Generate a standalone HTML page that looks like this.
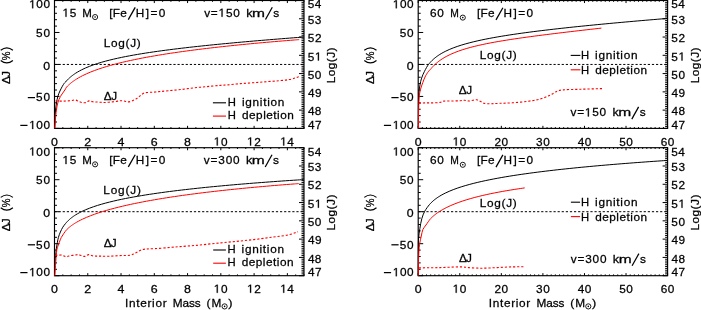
<!DOCTYPE html>
<html><head><meta charset="utf-8"><style>
html,body{margin:0;padding:0;background:#fff;width:701px;height:310px;overflow:hidden}
svg{display:block;will-change:transform}
text{font-family:"Liberation Sans",sans-serif;font-kerning:none}
</style></head><body>
<svg width="701" height="310" viewBox="0 0 701 310">
<rect width="701" height="310" fill="#fff"/>
<rect x="54.50" y="0.50" width="249.50" height="127.90" fill="none" stroke="#000" stroke-width="1.15"/>
<path d="M54.50,128.40v-2.56M54.50,0.50v2.56M62.82,128.40v-1.28M62.82,0.50v1.28M71.13,128.40v-1.28M71.13,0.50v1.28M79.45,128.40v-1.28M79.45,0.50v1.28M87.77,128.40v-2.56M87.77,0.50v2.56M96.08,128.40v-1.28M96.08,0.50v1.28M104.40,128.40v-1.28M104.40,0.50v1.28M112.72,128.40v-1.28M112.72,0.50v1.28M121.03,128.40v-2.56M121.03,0.50v2.56M129.35,128.40v-1.28M129.35,0.50v1.28M137.67,128.40v-1.28M137.67,0.50v1.28M145.98,128.40v-1.28M145.98,0.50v1.28M154.30,128.40v-2.56M154.30,0.50v2.56M162.62,128.40v-1.28M162.62,0.50v1.28M170.93,128.40v-1.28M170.93,0.50v1.28M179.25,128.40v-1.28M179.25,0.50v1.28M187.57,128.40v-2.56M187.57,0.50v2.56M195.88,128.40v-1.28M195.88,0.50v1.28M204.20,128.40v-1.28M204.20,0.50v1.28M212.52,128.40v-1.28M212.52,0.50v1.28M220.83,128.40v-2.56M220.83,0.50v2.56M229.15,128.40v-1.28M229.15,0.50v1.28M237.47,128.40v-1.28M237.47,0.50v1.28M245.78,128.40v-1.28M245.78,0.50v1.28M254.10,128.40v-2.56M254.10,0.50v2.56M262.42,128.40v-1.28M262.42,0.50v1.28M270.73,128.40v-1.28M270.73,0.50v1.28M279.05,128.40v-1.28M279.05,0.50v1.28M287.37,128.40v-2.56M287.37,0.50v2.56M295.68,128.40v-1.28M295.68,0.50v1.28M304.00,128.40v-1.28M304.00,0.50v1.28M54.50,128.40h4.99M54.50,122.01h2.50M54.50,115.61h2.50M54.50,109.22h2.50M54.50,102.82h2.50M54.50,96.43h4.99M54.50,90.03h2.50M54.50,83.64h2.50M54.50,77.24h2.50M54.50,70.84h2.50M54.50,64.45h4.99M54.50,58.05h2.50M54.50,51.66h2.50M54.50,45.27h2.50M54.50,38.87h2.50M54.50,32.47h4.99M54.50,26.08h2.50M54.50,19.69h2.50M54.50,13.29h2.50M54.50,6.90h2.50M54.50,0.50h4.99M304.00,128.40h-4.99M304.00,126.57h-2.50M304.00,124.75h-2.50M304.00,122.92h-2.50M304.00,121.09h-2.50M304.00,119.26h-2.50M304.00,117.44h-2.50M304.00,115.61h-2.50M304.00,113.78h-2.50M304.00,111.96h-2.50M304.00,110.13h-4.99M304.00,108.30h-2.50M304.00,106.47h-2.50M304.00,104.65h-2.50M304.00,102.82h-2.50M304.00,100.99h-2.50M304.00,99.17h-2.50M304.00,97.34h-2.50M304.00,95.51h-2.50M304.00,93.68h-2.50M304.00,91.86h-4.99M304.00,90.03h-2.50M304.00,88.20h-2.50M304.00,86.38h-2.50M304.00,84.55h-2.50M304.00,82.72h-2.50M304.00,80.89h-2.50M304.00,79.07h-2.50M304.00,77.24h-2.50M304.00,75.41h-2.50M304.00,73.59h-4.99M304.00,71.76h-2.50M304.00,69.93h-2.50M304.00,68.10h-2.50M304.00,66.28h-2.50M304.00,64.45h-2.50M304.00,62.62h-2.50M304.00,60.80h-2.50M304.00,58.97h-2.50M304.00,57.14h-2.50M304.00,55.31h-4.99M304.00,53.49h-2.50M304.00,51.66h-2.50M304.00,49.83h-2.50M304.00,48.01h-2.50M304.00,46.18h-2.50M304.00,44.35h-2.50M304.00,42.52h-2.50M304.00,40.70h-2.50M304.00,38.87h-2.50M304.00,37.04h-4.99M304.00,35.22h-2.50M304.00,33.39h-2.50M304.00,31.56h-2.50M304.00,29.73h-2.50M304.00,27.91h-2.50M304.00,26.08h-2.50M304.00,24.25h-2.50M304.00,22.43h-2.50M304.00,20.60h-2.50M304.00,18.77h-4.99M304.00,16.94h-2.50M304.00,15.12h-2.50M304.00,13.29h-2.50M304.00,11.46h-2.50M304.00,9.64h-2.50M304.00,7.81h-2.50M304.00,5.98h-2.50M304.00,4.15h-2.50M304.00,2.33h-2.50M304.00,0.50h-4.99" stroke="#000" stroke-width="1" fill="none"/>
<rect x="418.20" y="0.50" width="249.40" height="127.90" fill="none" stroke="#000" stroke-width="1.15"/>
<path d="M418.20,128.40v-2.56M418.20,0.50v2.56M422.36,128.40v-1.28M422.36,0.50v1.28M426.51,128.40v-1.28M426.51,0.50v1.28M430.67,128.40v-1.28M430.67,0.50v1.28M434.83,128.40v-1.28M434.83,0.50v1.28M438.98,128.40v-1.28M438.98,0.50v1.28M443.14,128.40v-1.28M443.14,0.50v1.28M447.30,128.40v-1.28M447.30,0.50v1.28M451.45,128.40v-1.28M451.45,0.50v1.28M455.61,128.40v-1.28M455.61,0.50v1.28M459.77,128.40v-2.56M459.77,0.50v2.56M463.92,128.40v-1.28M463.92,0.50v1.28M468.08,128.40v-1.28M468.08,0.50v1.28M472.24,128.40v-1.28M472.24,0.50v1.28M476.39,128.40v-1.28M476.39,0.50v1.28M480.55,128.40v-1.28M480.55,0.50v1.28M484.71,128.40v-1.28M484.71,0.50v1.28M488.86,128.40v-1.28M488.86,0.50v1.28M493.02,128.40v-1.28M493.02,0.50v1.28M497.18,128.40v-1.28M497.18,0.50v1.28M501.33,128.40v-2.56M501.33,0.50v2.56M505.49,128.40v-1.28M505.49,0.50v1.28M509.65,128.40v-1.28M509.65,0.50v1.28M513.80,128.40v-1.28M513.80,0.50v1.28M517.96,128.40v-1.28M517.96,0.50v1.28M522.12,128.40v-1.28M522.12,0.50v1.28M526.27,128.40v-1.28M526.27,0.50v1.28M530.43,128.40v-1.28M530.43,0.50v1.28M534.59,128.40v-1.28M534.59,0.50v1.28M538.74,128.40v-1.28M538.74,0.50v1.28M542.90,128.40v-2.56M542.90,0.50v2.56M547.06,128.40v-1.28M547.06,0.50v1.28M551.21,128.40v-1.28M551.21,0.50v1.28M555.37,128.40v-1.28M555.37,0.50v1.28M559.53,128.40v-1.28M559.53,0.50v1.28M563.68,128.40v-1.28M563.68,0.50v1.28M567.84,128.40v-1.28M567.84,0.50v1.28M572.00,128.40v-1.28M572.00,0.50v1.28M576.15,128.40v-1.28M576.15,0.50v1.28M580.31,128.40v-1.28M580.31,0.50v1.28M584.47,128.40v-2.56M584.47,0.50v2.56M588.62,128.40v-1.28M588.62,0.50v1.28M592.78,128.40v-1.28M592.78,0.50v1.28M596.94,128.40v-1.28M596.94,0.50v1.28M601.09,128.40v-1.28M601.09,0.50v1.28M605.25,128.40v-1.28M605.25,0.50v1.28M609.41,128.40v-1.28M609.41,0.50v1.28M613.56,128.40v-1.28M613.56,0.50v1.28M617.72,128.40v-1.28M617.72,0.50v1.28M621.88,128.40v-1.28M621.88,0.50v1.28M626.03,128.40v-2.56M626.03,0.50v2.56M630.19,128.40v-1.28M630.19,0.50v1.28M634.35,128.40v-1.28M634.35,0.50v1.28M638.50,128.40v-1.28M638.50,0.50v1.28M642.66,128.40v-1.28M642.66,0.50v1.28M646.82,128.40v-1.28M646.82,0.50v1.28M650.97,128.40v-1.28M650.97,0.50v1.28M655.13,128.40v-1.28M655.13,0.50v1.28M659.29,128.40v-1.28M659.29,0.50v1.28M663.44,128.40v-1.28M663.44,0.50v1.28M667.60,128.40v-2.56M667.60,0.50v2.56M418.20,128.40h4.99M418.20,122.01h2.49M418.20,115.61h2.49M418.20,109.22h2.49M418.20,102.82h2.49M418.20,96.43h4.99M418.20,90.03h2.49M418.20,83.64h2.49M418.20,77.24h2.49M418.20,70.84h2.49M418.20,64.45h4.99M418.20,58.05h2.49M418.20,51.66h2.49M418.20,45.27h2.49M418.20,38.87h2.49M418.20,32.47h4.99M418.20,26.08h2.49M418.20,19.69h2.49M418.20,13.29h2.49M418.20,6.90h2.49M418.20,0.50h4.99M667.60,128.40h-4.99M667.60,126.57h-2.49M667.60,124.75h-2.49M667.60,122.92h-2.49M667.60,121.09h-2.49M667.60,119.26h-2.49M667.60,117.44h-2.49M667.60,115.61h-2.49M667.60,113.78h-2.49M667.60,111.96h-2.49M667.60,110.13h-4.99M667.60,108.30h-2.49M667.60,106.47h-2.49M667.60,104.65h-2.49M667.60,102.82h-2.49M667.60,100.99h-2.49M667.60,99.17h-2.49M667.60,97.34h-2.49M667.60,95.51h-2.49M667.60,93.68h-2.49M667.60,91.86h-4.99M667.60,90.03h-2.49M667.60,88.20h-2.49M667.60,86.38h-2.49M667.60,84.55h-2.49M667.60,82.72h-2.49M667.60,80.89h-2.49M667.60,79.07h-2.49M667.60,77.24h-2.49M667.60,75.41h-2.49M667.60,73.59h-4.99M667.60,71.76h-2.49M667.60,69.93h-2.49M667.60,68.10h-2.49M667.60,66.28h-2.49M667.60,64.45h-2.49M667.60,62.62h-2.49M667.60,60.80h-2.49M667.60,58.97h-2.49M667.60,57.14h-2.49M667.60,55.31h-4.99M667.60,53.49h-2.49M667.60,51.66h-2.49M667.60,49.83h-2.49M667.60,48.01h-2.49M667.60,46.18h-2.49M667.60,44.35h-2.49M667.60,42.52h-2.49M667.60,40.70h-2.49M667.60,38.87h-2.49M667.60,37.04h-4.99M667.60,35.22h-2.49M667.60,33.39h-2.49M667.60,31.56h-2.49M667.60,29.73h-2.49M667.60,27.91h-2.49M667.60,26.08h-2.49M667.60,24.25h-2.49M667.60,22.43h-2.49M667.60,20.60h-2.49M667.60,18.77h-4.99M667.60,16.94h-2.49M667.60,15.12h-2.49M667.60,13.29h-2.49M667.60,11.46h-2.49M667.60,9.64h-2.49M667.60,7.81h-2.49M667.60,5.98h-2.49M667.60,4.15h-2.49M667.60,2.33h-2.49M667.60,0.50h-4.99" stroke="#000" stroke-width="1" fill="none"/>
<rect x="54.50" y="147.70" width="249.50" height="128.00" fill="none" stroke="#000" stroke-width="1.15"/>
<path d="M54.50,275.70v-2.56M54.50,147.70v2.56M62.82,275.70v-1.28M62.82,147.70v1.28M71.13,275.70v-1.28M71.13,147.70v1.28M79.45,275.70v-1.28M79.45,147.70v1.28M87.77,275.70v-2.56M87.77,147.70v2.56M96.08,275.70v-1.28M96.08,147.70v1.28M104.40,275.70v-1.28M104.40,147.70v1.28M112.72,275.70v-1.28M112.72,147.70v1.28M121.03,275.70v-2.56M121.03,147.70v2.56M129.35,275.70v-1.28M129.35,147.70v1.28M137.67,275.70v-1.28M137.67,147.70v1.28M145.98,275.70v-1.28M145.98,147.70v1.28M154.30,275.70v-2.56M154.30,147.70v2.56M162.62,275.70v-1.28M162.62,147.70v1.28M170.93,275.70v-1.28M170.93,147.70v1.28M179.25,275.70v-1.28M179.25,147.70v1.28M187.57,275.70v-2.56M187.57,147.70v2.56M195.88,275.70v-1.28M195.88,147.70v1.28M204.20,275.70v-1.28M204.20,147.70v1.28M212.52,275.70v-1.28M212.52,147.70v1.28M220.83,275.70v-2.56M220.83,147.70v2.56M229.15,275.70v-1.28M229.15,147.70v1.28M237.47,275.70v-1.28M237.47,147.70v1.28M245.78,275.70v-1.28M245.78,147.70v1.28M254.10,275.70v-2.56M254.10,147.70v2.56M262.42,275.70v-1.28M262.42,147.70v1.28M270.73,275.70v-1.28M270.73,147.70v1.28M279.05,275.70v-1.28M279.05,147.70v1.28M287.37,275.70v-2.56M287.37,147.70v2.56M295.68,275.70v-1.28M295.68,147.70v1.28M304.00,275.70v-1.28M304.00,147.70v1.28M54.50,275.70h4.99M54.50,269.30h2.50M54.50,262.90h2.50M54.50,256.50h2.50M54.50,250.10h2.50M54.50,243.70h4.99M54.50,237.30h2.50M54.50,230.90h2.50M54.50,224.50h2.50M54.50,218.10h2.50M54.50,211.70h4.99M54.50,205.30h2.50M54.50,198.90h2.50M54.50,192.50h2.50M54.50,186.10h2.50M54.50,179.70h4.99M54.50,173.30h2.50M54.50,166.90h2.50M54.50,160.50h2.50M54.50,154.10h2.50M54.50,147.70h4.99M304.00,275.70h-4.99M304.00,273.87h-2.50M304.00,272.04h-2.50M304.00,270.21h-2.50M304.00,268.39h-2.50M304.00,266.56h-2.50M304.00,264.73h-2.50M304.00,262.90h-2.50M304.00,261.07h-2.50M304.00,259.24h-2.50M304.00,257.41h-4.99M304.00,255.59h-2.50M304.00,253.76h-2.50M304.00,251.93h-2.50M304.00,250.10h-2.50M304.00,248.27h-2.50M304.00,246.44h-2.50M304.00,244.61h-2.50M304.00,242.79h-2.50M304.00,240.96h-2.50M304.00,239.13h-4.99M304.00,237.30h-2.50M304.00,235.47h-2.50M304.00,233.64h-2.50M304.00,231.81h-2.50M304.00,229.99h-2.50M304.00,228.16h-2.50M304.00,226.33h-2.50M304.00,224.50h-2.50M304.00,222.67h-2.50M304.00,220.84h-4.99M304.00,219.01h-2.50M304.00,217.19h-2.50M304.00,215.36h-2.50M304.00,213.53h-2.50M304.00,211.70h-2.50M304.00,209.87h-2.50M304.00,208.04h-2.50M304.00,206.21h-2.50M304.00,204.39h-2.50M304.00,202.56h-4.99M304.00,200.73h-2.50M304.00,198.90h-2.50M304.00,197.07h-2.50M304.00,195.24h-2.50M304.00,193.41h-2.50M304.00,191.59h-2.50M304.00,189.76h-2.50M304.00,187.93h-2.50M304.00,186.10h-2.50M304.00,184.27h-4.99M304.00,182.44h-2.50M304.00,180.61h-2.50M304.00,178.79h-2.50M304.00,176.96h-2.50M304.00,175.13h-2.50M304.00,173.30h-2.50M304.00,171.47h-2.50M304.00,169.64h-2.50M304.00,167.81h-2.50M304.00,165.99h-4.99M304.00,164.16h-2.50M304.00,162.33h-2.50M304.00,160.50h-2.50M304.00,158.67h-2.50M304.00,156.84h-2.50M304.00,155.01h-2.50M304.00,153.19h-2.50M304.00,151.36h-2.50M304.00,149.53h-2.50M304.00,147.70h-4.99" stroke="#000" stroke-width="1" fill="none"/>
<rect x="418.20" y="147.70" width="249.40" height="128.00" fill="none" stroke="#000" stroke-width="1.15"/>
<path d="M418.20,275.70v-2.56M418.20,147.70v2.56M422.36,275.70v-1.28M422.36,147.70v1.28M426.51,275.70v-1.28M426.51,147.70v1.28M430.67,275.70v-1.28M430.67,147.70v1.28M434.83,275.70v-1.28M434.83,147.70v1.28M438.98,275.70v-1.28M438.98,147.70v1.28M443.14,275.70v-1.28M443.14,147.70v1.28M447.30,275.70v-1.28M447.30,147.70v1.28M451.45,275.70v-1.28M451.45,147.70v1.28M455.61,275.70v-1.28M455.61,147.70v1.28M459.77,275.70v-2.56M459.77,147.70v2.56M463.92,275.70v-1.28M463.92,147.70v1.28M468.08,275.70v-1.28M468.08,147.70v1.28M472.24,275.70v-1.28M472.24,147.70v1.28M476.39,275.70v-1.28M476.39,147.70v1.28M480.55,275.70v-1.28M480.55,147.70v1.28M484.71,275.70v-1.28M484.71,147.70v1.28M488.86,275.70v-1.28M488.86,147.70v1.28M493.02,275.70v-1.28M493.02,147.70v1.28M497.18,275.70v-1.28M497.18,147.70v1.28M501.33,275.70v-2.56M501.33,147.70v2.56M505.49,275.70v-1.28M505.49,147.70v1.28M509.65,275.70v-1.28M509.65,147.70v1.28M513.80,275.70v-1.28M513.80,147.70v1.28M517.96,275.70v-1.28M517.96,147.70v1.28M522.12,275.70v-1.28M522.12,147.70v1.28M526.27,275.70v-1.28M526.27,147.70v1.28M530.43,275.70v-1.28M530.43,147.70v1.28M534.59,275.70v-1.28M534.59,147.70v1.28M538.74,275.70v-1.28M538.74,147.70v1.28M542.90,275.70v-2.56M542.90,147.70v2.56M547.06,275.70v-1.28M547.06,147.70v1.28M551.21,275.70v-1.28M551.21,147.70v1.28M555.37,275.70v-1.28M555.37,147.70v1.28M559.53,275.70v-1.28M559.53,147.70v1.28M563.68,275.70v-1.28M563.68,147.70v1.28M567.84,275.70v-1.28M567.84,147.70v1.28M572.00,275.70v-1.28M572.00,147.70v1.28M576.15,275.70v-1.28M576.15,147.70v1.28M580.31,275.70v-1.28M580.31,147.70v1.28M584.47,275.70v-2.56M584.47,147.70v2.56M588.62,275.70v-1.28M588.62,147.70v1.28M592.78,275.70v-1.28M592.78,147.70v1.28M596.94,275.70v-1.28M596.94,147.70v1.28M601.09,275.70v-1.28M601.09,147.70v1.28M605.25,275.70v-1.28M605.25,147.70v1.28M609.41,275.70v-1.28M609.41,147.70v1.28M613.56,275.70v-1.28M613.56,147.70v1.28M617.72,275.70v-1.28M617.72,147.70v1.28M621.88,275.70v-1.28M621.88,147.70v1.28M626.03,275.70v-2.56M626.03,147.70v2.56M630.19,275.70v-1.28M630.19,147.70v1.28M634.35,275.70v-1.28M634.35,147.70v1.28M638.50,275.70v-1.28M638.50,147.70v1.28M642.66,275.70v-1.28M642.66,147.70v1.28M646.82,275.70v-1.28M646.82,147.70v1.28M650.97,275.70v-1.28M650.97,147.70v1.28M655.13,275.70v-1.28M655.13,147.70v1.28M659.29,275.70v-1.28M659.29,147.70v1.28M663.44,275.70v-1.28M663.44,147.70v1.28M667.60,275.70v-2.56M667.60,147.70v2.56M418.20,275.70h4.99M418.20,269.30h2.49M418.20,262.90h2.49M418.20,256.50h2.49M418.20,250.10h2.49M418.20,243.70h4.99M418.20,237.30h2.49M418.20,230.90h2.49M418.20,224.50h2.49M418.20,218.10h2.49M418.20,211.70h4.99M418.20,205.30h2.49M418.20,198.90h2.49M418.20,192.50h2.49M418.20,186.10h2.49M418.20,179.70h4.99M418.20,173.30h2.49M418.20,166.90h2.49M418.20,160.50h2.49M418.20,154.10h2.49M418.20,147.70h4.99M667.60,275.70h-4.99M667.60,273.87h-2.49M667.60,272.04h-2.49M667.60,270.21h-2.49M667.60,268.39h-2.49M667.60,266.56h-2.49M667.60,264.73h-2.49M667.60,262.90h-2.49M667.60,261.07h-2.49M667.60,259.24h-2.49M667.60,257.41h-4.99M667.60,255.59h-2.49M667.60,253.76h-2.49M667.60,251.93h-2.49M667.60,250.10h-2.49M667.60,248.27h-2.49M667.60,246.44h-2.49M667.60,244.61h-2.49M667.60,242.79h-2.49M667.60,240.96h-2.49M667.60,239.13h-4.99M667.60,237.30h-2.49M667.60,235.47h-2.49M667.60,233.64h-2.49M667.60,231.81h-2.49M667.60,229.99h-2.49M667.60,228.16h-2.49M667.60,226.33h-2.49M667.60,224.50h-2.49M667.60,222.67h-2.49M667.60,220.84h-4.99M667.60,219.01h-2.49M667.60,217.19h-2.49M667.60,215.36h-2.49M667.60,213.53h-2.49M667.60,211.70h-2.49M667.60,209.87h-2.49M667.60,208.04h-2.49M667.60,206.21h-2.49M667.60,204.39h-2.49M667.60,202.56h-4.99M667.60,200.73h-2.49M667.60,198.90h-2.49M667.60,197.07h-2.49M667.60,195.24h-2.49M667.60,193.41h-2.49M667.60,191.59h-2.49M667.60,189.76h-2.49M667.60,187.93h-2.49M667.60,186.10h-2.49M667.60,184.27h-4.99M667.60,182.44h-2.49M667.60,180.61h-2.49M667.60,178.79h-2.49M667.60,176.96h-2.49M667.60,175.13h-2.49M667.60,173.30h-2.49M667.60,171.47h-2.49M667.60,169.64h-2.49M667.60,167.81h-2.49M667.60,165.99h-4.99M667.60,164.16h-2.49M667.60,162.33h-2.49M667.60,160.50h-2.49M667.60,158.67h-2.49M667.60,156.84h-2.49M667.60,155.01h-2.49M667.60,153.19h-2.49M667.60,151.36h-2.49M667.60,149.53h-2.49M667.60,147.70h-4.99" stroke="#000" stroke-width="1" fill="none"/>
<path d="M54.50,64.45H304.00" stroke="#000" stroke-width="1.0" stroke-dasharray="2.2 1.9" stroke-dashoffset="0"/>
<path d="M418.20,64.45H667.60" stroke="#000" stroke-width="1.0" stroke-dasharray="2.2 1.9" stroke-dashoffset="0"/>
<path d="M54.50,211.70H304.00" stroke="#000" stroke-width="1.0" stroke-dasharray="2.2 1.9" stroke-dashoffset="0"/>
<path d="M418.20,211.70H667.60" stroke="#000" stroke-width="1.0" stroke-dasharray="2.2 1.9" stroke-dashoffset="0"/>
<path d="M54.70,128.40 C54.80,125.60 54.86,122.96 55.00,120.00 C55.15,116.67 55.30,112.50 55.60,109.40 C55.84,106.96 56.13,105.05 56.50,102.90 C56.87,100.75 57.17,98.61 57.80,96.50 C58.45,94.31 59.36,92.15 60.40,90.00 C61.50,87.72 63.30,84.50 64.30,83.20 C64.76,82.60 65.13,82.42 65.50,82.02 C65.86,81.64 66.16,81.24 66.50,80.87 C66.83,80.50 67.16,80.15 67.50,79.80 C67.83,79.46 68.16,79.13 68.50,78.81 C68.83,78.49 69.16,78.18 69.50,77.88 C69.83,77.58 70.16,77.29 70.50,77.01 C70.83,76.73 71.16,76.45 71.50,76.19 C71.83,75.92 72.17,75.66 72.50,75.41 C72.83,75.16 73.17,74.92 73.50,74.68 C73.83,74.44 74.17,74.21 74.50,73.98 C74.83,73.75 75.11,73.57 75.50,73.31 C76.05,72.96 76.71,72.53 77.50,72.07 C78.60,71.43 80.16,70.56 81.50,69.88 C82.82,69.20 84.16,68.58 85.50,67.99 C86.83,67.40 88.16,66.85 89.50,66.33 C90.83,65.80 92.16,65.32 93.50,64.84 C94.83,64.38 96.16,63.93 97.50,63.51 C98.83,63.08 100.16,62.68 101.50,62.29 C102.83,61.90 104.16,61.53 105.50,61.16 C106.83,60.81 108.17,60.46 109.50,60.13 C110.83,59.79 112.17,59.47 113.50,59.16 C114.83,58.85 116.17,58.55 117.50,58.25 C118.83,57.96 120.17,57.68 121.50,57.40 C122.83,57.12 124.17,56.86 125.50,56.59 C126.83,56.33 128.17,56.08 129.50,55.83 C130.83,55.58 132.17,55.34 133.50,55.10 C134.83,54.86 136.17,54.63 137.50,54.41 C138.83,54.18 140.17,53.96 141.50,53.74 C142.83,53.52 144.17,53.31 145.50,53.10 C146.83,52.89 148.17,52.69 149.50,52.49 C150.83,52.29 152.17,52.09 153.50,51.90 C154.83,51.70 156.17,51.51 157.50,51.33 C158.83,51.14 160.17,50.95 161.50,50.77 C162.83,50.59 164.17,50.41 165.50,50.24 C166.83,50.06 168.17,49.89 169.50,49.72 C170.83,49.55 172.17,49.38 173.50,49.21 C174.83,49.04 176.17,48.88 177.50,48.72 C178.83,48.56 180.17,48.40 181.50,48.24 C182.83,48.08 184.17,47.92 185.50,47.77 C186.83,47.62 188.17,47.46 189.50,47.31 C190.83,47.16 192.17,47.01 193.50,46.87 C194.83,46.72 196.17,46.57 197.50,46.43 C198.83,46.29 200.17,46.14 201.50,46.00 C202.83,45.86 204.17,45.72 205.50,45.58 C206.83,45.44 208.17,45.31 209.50,45.17 C210.83,45.03 212.17,44.90 213.50,44.77 C214.83,44.63 216.17,44.50 217.50,44.37 C218.83,44.24 220.17,44.11 221.50,43.98 C222.83,43.85 224.17,43.72 225.50,43.60 C226.83,43.47 228.17,43.34 229.50,43.22 C230.83,43.09 232.17,42.97 233.50,42.85 C234.83,42.72 236.17,42.60 237.50,42.48 C238.83,42.36 240.17,42.24 241.50,42.12 C242.83,42.00 244.17,41.88 245.50,41.76 C246.83,41.64 248.17,41.53 249.50,41.41 C250.83,41.30 252.17,41.18 253.50,41.06 C254.83,40.95 256.17,40.84 257.50,40.72 C258.83,40.61 260.17,40.50 261.50,40.38 C262.83,40.27 264.17,40.16 265.50,40.05 C266.83,39.94 268.17,39.83 269.50,39.72 C270.83,39.61 272.17,39.50 273.50,39.39 C274.83,39.28 276.17,39.18 277.50,39.07 C278.83,38.96 280.17,38.86 281.50,38.75 C282.83,38.64 284.17,38.54 285.50,38.43 C286.83,38.33 288.17,38.22 289.50,38.12 C290.83,38.01 292.17,37.91 293.50,37.81 C294.83,37.71 296.17,37.60 297.50,37.50 C298.83,37.40 300.38,37.28 301.50,37.20 C302.31,37.13 302.90,37.09 303.60,37.04" stroke="#000" stroke-width="1.0" fill="none" stroke-linejoin="round"/>
<path d="M54.80,128.40 C54.93,126.27 54.99,124.49 55.20,122.00 C55.49,118.50 55.97,112.90 56.50,109.40 C56.88,106.87 57.16,105.03 57.80,102.90 C58.45,100.73 59.27,98.58 60.40,96.50 C61.60,94.27 63.81,91.75 64.90,90.00 C65.60,88.87 65.98,87.82 66.50,87.12 C66.84,86.66 67.16,86.42 67.50,86.08 C67.83,85.75 68.16,85.43 68.50,85.11 C68.83,84.80 69.16,84.50 69.50,84.21 C69.83,83.91 70.16,83.63 70.50,83.35 C70.83,83.08 71.16,82.81 71.50,82.55 C71.83,82.29 72.17,82.03 72.50,81.78 C72.83,81.54 73.17,81.29 73.50,81.06 C73.83,80.82 74.17,80.59 74.50,80.36 C74.83,80.14 75.17,79.92 75.50,79.70 C75.83,79.48 76.11,79.30 76.50,79.06 C77.05,78.72 77.71,78.31 78.50,77.86 C79.60,77.24 81.16,76.39 82.50,75.70 C83.82,75.03 85.16,74.40 86.50,73.80 C87.83,73.20 89.16,72.63 90.50,72.09 C91.83,71.54 93.16,71.03 94.50,70.53 C95.83,70.03 97.16,69.56 98.50,69.10 C99.83,68.64 101.16,68.20 102.50,67.78 C103.83,67.35 105.16,66.94 106.50,66.54 C107.83,66.14 109.17,65.76 110.50,65.39 C111.83,65.01 113.17,64.65 114.50,64.30 C115.83,63.94 117.17,63.60 118.50,63.27 C119.83,62.93 121.17,62.61 122.50,62.29 C123.83,61.97 125.17,61.66 126.50,61.36 C127.83,61.06 129.17,60.76 130.50,60.47 C131.83,60.18 133.17,59.90 134.50,59.63 C135.83,59.35 137.17,59.08 138.50,58.81 C139.83,58.55 141.17,58.29 142.50,58.03 C143.83,57.78 145.17,57.53 146.50,57.28 C147.83,57.03 149.17,56.79 150.50,56.56 C151.83,56.32 153.17,56.09 154.50,55.86 C155.83,55.63 157.17,55.40 158.50,55.18 C159.83,54.96 161.17,54.74 162.50,54.53 C163.83,54.31 165.17,54.10 166.50,53.89 C167.83,53.69 169.17,53.48 170.50,53.28 C171.83,53.08 173.17,52.88 174.50,52.69 C175.83,52.49 177.17,52.30 178.50,52.11 C179.83,51.92 181.17,51.73 182.50,51.54 C183.83,51.36 185.17,51.18 186.50,51.00 C187.83,50.82 189.17,50.64 190.50,50.46 C191.83,50.29 193.17,50.11 194.50,49.94 C195.83,49.77 197.17,49.60 198.50,49.44 C199.83,49.27 201.17,49.10 202.50,48.94 C203.83,48.78 205.17,48.62 206.50,48.46 C207.83,48.30 209.17,48.14 210.50,47.99 C211.83,47.83 213.17,47.68 214.50,47.52 C215.83,47.37 217.17,47.22 218.50,47.07 C219.83,46.92 221.17,46.78 222.50,46.63 C223.83,46.49 225.17,46.34 226.50,46.20 C227.83,46.06 229.17,45.92 230.50,45.78 C231.83,45.64 233.17,45.50 234.50,45.36 C235.83,45.22 237.17,45.09 238.50,44.95 C239.83,44.82 241.17,44.69 242.50,44.56 C243.83,44.42 245.17,44.29 246.50,44.16 C247.83,44.04 249.17,43.91 250.50,43.78 C251.83,43.65 253.17,43.53 254.50,43.40 C255.83,43.28 257.17,43.16 258.50,43.03 C259.83,42.91 261.17,42.79 262.50,42.67 C263.83,42.55 265.17,42.43 266.50,42.31 C267.83,42.20 269.17,42.08 270.50,41.96 C271.83,41.85 273.17,41.73 274.50,41.62 C275.83,41.51 277.17,41.39 278.50,41.28 C279.83,41.17 281.17,41.06 282.50,40.95 C283.83,40.84 285.17,40.73 286.50,40.62 C287.83,40.51 289.17,40.40 290.50,40.30 C291.83,40.19 293.17,40.08 294.50,39.98 C295.83,39.87 297.71,39.73 298.50,39.67 C298.83,39.64 298.97,39.63 299.20,39.61" stroke="#ff0000" stroke-width="1.0" fill="none" stroke-linejoin="round"/>
<path d="M55.50,101.00 C56.90,101.03 58.35,101.08 59.70,101.10 C60.95,101.11 62.05,101.13 63.30,101.10 C64.67,101.07 66.20,100.99 67.60,100.90 C68.93,100.82 70.20,100.75 71.50,100.60 C72.80,100.45 74.15,99.83 75.40,100.00 C76.65,100.17 77.80,101.14 79.00,101.60 C80.16,102.04 81.35,102.54 82.50,102.70 C83.58,102.85 84.66,102.87 85.70,102.60 C86.83,102.31 87.83,101.05 89.00,100.90 C90.22,100.75 91.59,101.62 92.90,101.80 C94.19,101.98 95.50,101.92 96.80,102.00 C98.10,102.08 99.43,102.22 100.70,102.30 C101.90,102.38 102.94,102.50 104.20,102.50 C105.67,102.50 107.27,102.34 109.00,102.20 C111.05,102.03 113.69,101.78 115.70,101.50 C117.35,101.27 118.73,100.78 120.20,100.70 C121.59,100.63 123.02,100.78 124.30,101.00 C125.47,101.20 126.46,101.84 127.60,101.90 C128.79,101.96 130.09,101.68 131.30,101.30 C132.56,100.90 133.85,100.16 135.00,99.50 C136.07,98.88 137.02,98.23 138.00,97.50 C139.02,96.74 139.95,95.75 141.00,95.00 C142.05,94.25 143.09,93.43 144.30,93.00 C145.55,92.55 147.01,92.53 148.40,92.40 C149.84,92.26 151.36,92.30 152.80,92.20 C154.19,92.10 155.53,91.92 156.90,91.80 C158.27,91.68 159.43,91.64 161.00,91.50 C163.13,91.31 165.67,90.98 168.50,90.70 C172.20,90.33 177.03,89.98 181.30,89.50 C185.60,89.02 189.90,88.28 194.20,87.80 C198.47,87.32 202.72,87.00 207.00,86.60 C211.29,86.20 216.12,85.70 219.90,85.40 C222.85,85.17 224.85,85.14 227.80,84.90 C231.58,84.59 236.41,83.97 240.70,83.60 C244.97,83.23 249.23,83.02 253.50,82.70 C257.77,82.38 262.02,82.03 266.30,81.70 C270.59,81.37 275.15,81.09 279.20,80.70 C282.83,80.35 286.49,80.07 289.50,79.50 C291.90,79.04 294.06,78.41 295.90,77.80 C297.35,77.32 298.43,76.80 299.70,76.30" stroke="#ff0000" stroke-width="1.1" fill="none" stroke-linejoin="round" stroke-dasharray="2.2 1.9"/>
<path d="M418.30,128.40 C418.33,122.27 418.31,115.93 418.40,110.00 C418.48,104.45 418.44,98.50 418.80,93.90 C419.07,90.43 419.48,87.59 420.00,84.80 C420.45,82.38 420.87,80.31 421.60,78.10 C422.36,75.81 423.39,73.53 424.50,71.30 C425.65,69.00 427.54,65.68 428.40,64.50 C428.73,64.04 428.92,63.94 429.20,63.62 C429.52,63.26 429.86,62.83 430.20,62.45 C430.53,62.08 430.86,61.72 431.20,61.36 C431.53,61.02 431.86,60.69 432.20,60.36 C432.53,60.04 432.86,59.73 433.20,59.42 C433.53,59.12 433.86,58.83 434.20,58.54 C434.53,58.26 434.86,57.98 435.20,57.72 C435.53,57.45 435.86,57.19 436.20,56.94 C436.53,56.68 436.87,56.44 437.20,56.20 C437.53,55.96 437.87,55.73 438.20,55.50 C438.53,55.27 438.81,55.09 439.20,54.84 C439.75,54.48 440.41,54.06 441.20,53.60 C442.30,52.96 443.86,52.10 445.20,51.43 C446.52,50.76 447.86,50.15 449.20,49.56 C450.53,48.98 451.86,48.45 453.20,47.93 C454.53,47.42 455.86,46.94 457.20,46.48 C458.53,46.02 459.86,45.59 461.20,45.17 C462.53,44.76 463.86,44.37 465.20,43.99 C466.53,43.61 467.86,43.25 469.20,42.90 C470.53,42.55 471.87,42.21 473.20,41.89 C474.53,41.56 475.87,41.25 477.20,40.95 C478.53,40.64 479.87,40.35 481.20,40.06 C482.53,39.78 483.87,39.50 485.20,39.23 C486.53,38.97 487.87,38.70 489.20,38.45 C490.53,38.19 491.87,37.95 493.20,37.70 C494.53,37.46 495.87,37.22 497.20,36.99 C498.53,36.76 499.87,36.53 501.20,36.31 C502.53,36.09 503.87,35.87 505.20,35.66 C506.53,35.45 507.87,35.24 509.20,35.03 C510.53,34.83 511.87,34.62 513.20,34.43 C514.53,34.23 515.87,34.03 517.20,33.84 C518.53,33.65 519.87,33.46 521.20,33.28 C522.53,33.09 523.87,32.91 525.20,32.73 C526.53,32.55 527.87,32.37 529.20,32.19 C530.53,32.02 531.87,31.84 533.20,31.67 C534.53,31.50 535.87,31.33 537.20,31.17 C538.53,31.00 539.87,30.83 541.20,30.67 C542.53,30.51 543.87,30.35 545.20,30.19 C546.53,30.03 547.87,29.87 549.20,29.72 C550.53,29.56 551.87,29.41 553.20,29.25 C554.53,29.10 555.87,28.95 557.20,28.80 C558.53,28.65 559.87,28.50 561.20,28.35 C562.53,28.21 563.87,28.06 565.20,27.91 C566.53,27.77 567.87,27.63 569.20,27.48 C570.53,27.34 571.87,27.20 573.20,27.06 C574.53,26.92 575.87,26.78 577.20,26.64 C578.53,26.51 579.87,26.37 581.20,26.23 C582.53,26.10 583.87,25.96 585.20,25.83 C586.53,25.70 587.87,25.56 589.20,25.43 C590.53,25.30 591.87,25.17 593.20,25.04 C594.53,24.91 595.87,24.78 597.20,24.65 C598.53,24.52 599.87,24.39 601.20,24.26 C602.53,24.14 603.87,24.01 605.20,23.88 C606.53,23.76 607.87,23.63 609.20,23.51 C610.53,23.38 611.87,23.26 613.20,23.14 C614.53,23.01 615.87,22.89 617.20,22.77 C618.53,22.65 619.87,22.53 621.20,22.41 C622.53,22.28 623.87,22.16 625.20,22.04 C626.53,21.93 627.87,21.81 629.20,21.69 C630.53,21.57 631.87,21.45 633.20,21.33 C634.53,21.22 635.87,21.10 637.20,20.98 C638.53,20.87 639.87,20.75 641.20,20.64 C642.53,20.52 643.87,20.41 645.20,20.29 C646.53,20.18 647.87,20.06 649.20,19.95 C650.53,19.84 651.87,19.72 653.20,19.61 C654.53,19.50 655.87,19.38 657.20,19.27 C658.53,19.16 659.87,19.05 661.20,18.94 C662.53,18.83 664.05,18.70 665.20,18.61 C666.07,18.53 666.73,18.48 667.50,18.42" stroke="#000" stroke-width="1.0" fill="none" stroke-linejoin="round"/>
<path d="M418.50,128.40 C418.53,122.27 418.49,114.70 418.60,110.00 C418.67,107.08 418.77,105.33 418.90,102.90 C419.04,100.34 419.09,97.41 419.40,95.00 C419.66,92.94 419.98,91.26 420.50,89.30 C421.08,87.14 421.96,84.83 422.80,82.60 C423.66,80.33 424.45,77.90 425.60,75.80 C426.70,73.78 428.67,71.04 429.50,70.20 C429.79,69.90 429.96,69.92 430.20,69.70 C430.52,69.39 430.86,68.87 431.20,68.47 C431.53,68.07 431.86,67.69 432.20,67.31 C432.53,66.95 432.86,66.59 433.20,66.24 C433.53,65.89 433.86,65.56 434.20,65.23 C434.53,64.90 434.86,64.58 435.20,64.27 C435.53,63.97 435.86,63.67 436.20,63.38 C436.53,63.09 436.86,62.80 437.20,62.53 C437.53,62.25 437.87,61.99 438.20,61.72 C438.53,61.46 438.87,61.21 439.20,60.96 C439.53,60.71 439.81,60.51 440.20,60.23 C440.75,59.85 441.41,59.38 442.20,58.88 C443.30,58.19 444.85,57.25 446.20,56.51 C447.52,55.79 448.86,55.13 450.20,54.50 C451.52,53.87 452.86,53.30 454.20,52.75 C455.53,52.20 456.86,51.69 458.20,51.21 C459.53,50.72 460.86,50.27 462.20,49.84 C463.53,49.40 464.86,48.99 466.20,48.60 C467.53,48.21 468.86,47.83 470.20,47.47 C471.53,47.12 472.87,46.77 474.20,46.44 C475.53,46.11 476.87,45.79 478.20,45.49 C479.53,45.18 480.87,44.88 482.20,44.60 C483.53,44.31 484.87,44.03 486.20,43.76 C487.53,43.49 488.87,43.23 490.20,42.98 C491.53,42.72 492.87,42.47 494.20,42.23 C495.53,41.99 496.87,41.75 498.20,41.52 C499.53,41.29 500.87,41.06 502.20,40.84 C503.53,40.62 504.87,40.40 506.20,40.19 C507.53,39.97 508.87,39.77 510.20,39.56 C511.53,39.35 512.87,39.15 514.20,38.95 C515.53,38.75 516.87,38.56 518.20,38.36 C519.53,38.17 520.87,37.98 522.20,37.79 C523.53,37.60 524.87,37.42 526.20,37.23 C527.53,37.05 528.87,36.87 530.20,36.69 C531.53,36.51 532.87,36.33 534.20,36.15 C535.53,35.98 536.87,35.80 538.20,35.63 C539.53,35.45 540.87,35.28 542.20,35.11 C543.53,34.94 544.87,34.77 546.20,34.61 C547.53,34.44 548.87,34.27 550.20,34.11 C551.53,33.94 552.87,33.78 554.20,33.61 C555.53,33.45 556.87,33.29 558.20,33.13 C559.53,32.97 560.87,32.81 562.20,32.65 C563.53,32.49 564.87,32.33 566.20,32.17 C567.53,32.01 568.87,31.85 570.20,31.70 C571.53,31.54 572.87,31.38 574.20,31.23 C575.53,31.07 576.87,30.92 578.20,30.76 C579.53,30.61 580.87,30.45 582.20,30.30 C583.53,30.15 584.87,29.99 586.20,29.84 C587.53,29.69 588.87,29.53 590.20,29.38 C591.53,29.23 592.87,29.08 594.20,28.93 C595.53,28.78 596.94,28.62 598.20,28.47 C599.33,28.35 600.33,28.23 601.40,28.11" stroke="#ff0000" stroke-width="1.0" fill="none" stroke-linejoin="round"/>
<path d="M418.80,103.20 C420.87,103.10 422.97,102.95 425.00,102.90 C426.96,102.85 428.65,102.96 430.80,102.90 C433.52,102.83 437.61,102.86 440.00,102.40 C441.60,102.10 442.34,101.36 443.90,101.10 C446.09,100.73 449.27,101.07 452.00,101.00 C454.80,100.93 458.15,100.85 460.50,100.70 C462.18,100.59 463.37,100.25 464.80,100.30 C466.24,100.35 467.70,101.01 469.10,101.00 C470.43,100.99 471.71,100.50 473.00,100.30 C474.27,100.10 475.55,99.61 476.80,99.80 C478.12,100.00 479.45,101.00 480.70,101.60 C481.88,102.17 482.71,102.93 484.10,103.30 C486.03,103.81 488.87,103.69 491.40,103.70 C494.13,103.71 496.77,103.43 499.90,103.30 C503.75,103.13 508.29,103.12 512.80,102.80 C517.78,102.45 523.58,101.92 528.50,101.20 C532.92,100.55 537.17,99.94 541.00,98.80 C544.44,97.78 547.59,96.30 550.50,94.90 C553.11,93.65 555.36,91.72 557.70,90.90 C559.68,90.20 561.09,90.15 563.50,89.90 C567.41,89.49 573.31,89.50 579.00,89.30 C585.96,89.06 594.47,88.83 602.20,88.60" stroke="#ff0000" stroke-width="1.1" fill="none" stroke-linejoin="round" stroke-dasharray="2.2 1.9"/>
<path d="M54.60,275.60 C54.67,272.07 54.60,268.65 54.80,265.00 C55.01,261.07 55.59,255.91 55.90,252.80 C56.09,250.87 56.17,249.75 56.40,248.10 C56.66,246.26 57.05,244.15 57.40,242.30 C57.72,240.60 57.93,239.05 58.40,237.40 C58.91,235.62 59.65,233.73 60.40,232.00 C61.12,230.33 61.91,228.65 62.80,227.20 C63.62,225.87 64.81,224.44 65.50,223.58 C65.90,223.07 66.16,222.78 66.50,222.40 C66.83,222.04 67.16,221.68 67.50,221.33 C67.83,220.99 68.16,220.66 68.50,220.34 C68.83,220.03 69.16,219.72 69.50,219.42 C69.83,219.13 70.16,218.84 70.50,218.56 C70.83,218.29 71.16,218.02 71.50,217.76 C71.83,217.50 72.16,217.25 72.50,217.00 C72.83,216.76 73.17,216.52 73.50,216.28 C73.83,216.05 74.17,215.83 74.50,215.61 C74.83,215.39 75.11,215.21 75.50,214.96 C76.05,214.62 76.71,214.20 77.50,213.76 C78.60,213.14 80.16,212.30 81.50,211.64 C82.82,210.98 84.16,210.38 85.50,209.80 C86.83,209.23 88.16,208.70 89.50,208.19 C90.83,207.68 92.16,207.20 93.50,206.74 C94.83,206.28 96.16,205.84 97.50,205.42 C98.83,205.00 100.16,204.60 101.50,204.22 C102.83,203.83 104.17,203.46 105.50,203.10 C106.83,202.74 108.17,202.40 109.50,202.07 C110.83,201.73 112.17,201.41 113.50,201.10 C114.83,200.78 116.17,200.48 117.50,200.18 C118.83,199.89 120.17,199.60 121.50,199.32 C122.83,199.05 124.17,198.77 125.50,198.51 C126.83,198.24 128.17,197.99 129.50,197.73 C130.83,197.48 132.17,197.24 133.50,197.00 C134.83,196.75 136.17,196.52 137.50,196.29 C138.83,196.06 140.17,195.83 141.50,195.61 C142.83,195.39 144.17,195.18 145.50,194.96 C146.83,194.75 148.17,194.54 149.50,194.34 C150.83,194.14 152.17,193.94 153.50,193.74 C154.83,193.54 156.17,193.35 157.50,193.16 C158.83,192.97 160.17,192.78 161.50,192.60 C162.83,192.41 164.17,192.23 165.50,192.06 C166.83,191.88 168.17,191.70 169.50,191.53 C170.83,191.36 172.17,191.19 173.50,191.02 C174.83,190.86 176.17,190.69 177.50,190.53 C178.83,190.37 180.17,190.21 181.50,190.05 C182.83,189.89 184.17,189.74 185.50,189.58 C186.83,189.43 188.17,189.28 189.50,189.13 C190.83,188.98 192.17,188.83 193.50,188.69 C194.83,188.54 196.17,188.40 197.50,188.26 C198.83,188.11 200.17,187.97 201.50,187.83 C202.83,187.70 204.17,187.56 205.50,187.42 C206.83,187.29 208.17,187.16 209.50,187.02 C210.83,186.89 212.17,186.76 213.50,186.63 C214.83,186.50 216.17,186.38 217.50,186.25 C218.83,186.12 220.17,186.00 221.50,185.88 C222.83,185.75 224.17,185.63 225.50,185.51 C226.83,185.39 228.17,185.27 229.50,185.15 C230.83,185.03 232.17,184.91 233.50,184.80 C234.83,184.68 236.17,184.57 237.50,184.45 C238.83,184.34 240.17,184.23 241.50,184.12 C242.83,184.01 244.17,183.89 245.50,183.79 C246.83,183.68 248.17,183.57 249.50,183.46 C250.83,183.35 252.17,183.25 253.50,183.14 C254.83,183.04 256.17,182.93 257.50,182.83 C258.83,182.73 260.17,182.62 261.50,182.52 C262.83,182.42 264.17,182.32 265.50,182.22 C266.83,182.12 268.17,182.02 269.50,181.92 C270.83,181.82 272.17,181.73 273.50,181.63 C274.83,181.53 276.17,181.44 277.50,181.34 C278.83,181.25 280.17,181.15 281.50,181.06 C282.83,180.97 284.17,180.88 285.50,180.78 C286.83,180.69 288.17,180.60 289.50,180.51 C290.83,180.42 292.17,180.33 293.50,180.24 C294.83,180.15 296.17,180.06 297.50,179.98 C298.83,179.89 300.38,179.79 301.50,179.72 C302.31,179.66 302.90,179.63 303.60,179.58" stroke="#000" stroke-width="1.0" fill="none" stroke-linejoin="round"/>
<path d="M54.80,275.60 C54.97,273.17 55.11,271.05 55.30,268.30 C55.55,264.73 55.89,259.45 56.20,256.00 C56.43,253.49 56.54,251.31 56.90,249.50 C57.16,248.17 57.52,247.26 57.90,246.10 C58.31,244.86 58.78,243.64 59.30,242.30 C59.90,240.77 60.53,238.90 61.30,237.40 C62.01,236.02 62.84,234.85 63.70,233.60 C64.57,232.33 65.78,230.69 66.50,229.86 C66.90,229.40 67.16,229.19 67.50,228.87 C67.83,228.56 68.16,228.26 68.50,227.96 C68.83,227.67 69.16,227.39 69.50,227.11 C69.83,226.84 70.16,226.57 70.50,226.31 C70.83,226.05 71.17,225.80 71.50,225.56 C71.83,225.31 72.17,225.08 72.50,224.84 C72.83,224.61 73.17,224.39 73.50,224.16 C73.83,223.94 74.17,223.73 74.50,223.52 C74.83,223.31 75.17,223.10 75.50,222.90 C75.83,222.70 76.11,222.53 76.50,222.30 C77.05,221.99 77.71,221.60 78.50,221.18 C79.60,220.60 81.16,219.80 82.50,219.16 C83.83,218.53 85.16,217.93 86.50,217.36 C87.83,216.79 89.16,216.26 90.50,215.74 C91.83,215.22 93.16,214.73 94.50,214.25 C95.83,213.77 97.16,213.32 98.50,212.87 C99.83,212.43 101.16,212.01 102.50,211.59 C103.83,211.18 105.17,210.78 106.50,210.39 C107.83,210.00 109.17,209.63 110.50,209.26 C111.83,208.90 113.17,208.54 114.50,208.19 C115.83,207.85 117.17,207.51 118.50,207.18 C119.83,206.85 121.17,206.53 122.50,206.21 C123.83,205.90 125.17,205.59 126.50,205.29 C127.83,204.99 129.17,204.69 130.50,204.40 C131.83,204.12 133.17,203.83 134.50,203.56 C135.83,203.28 137.17,203.01 138.50,202.74 C139.83,202.48 141.17,202.22 142.50,201.96 C143.83,201.70 145.17,201.45 146.50,201.20 C147.83,200.96 149.17,200.71 150.50,200.47 C151.83,200.24 153.17,200.00 154.50,199.77 C155.83,199.54 157.17,199.31 158.50,199.09 C159.83,198.87 161.17,198.65 162.50,198.43 C163.83,198.21 165.17,198.00 166.50,197.79 C167.83,197.58 169.17,197.37 170.50,197.17 C171.83,196.97 173.17,196.77 174.50,196.57 C175.83,196.37 177.17,196.18 178.50,195.98 C179.83,195.79 181.17,195.60 182.50,195.42 C183.83,195.23 185.17,195.04 186.50,194.86 C187.83,194.68 189.17,194.50 190.50,194.32 C191.83,194.15 193.17,193.97 194.50,193.80 C195.83,193.63 197.17,193.46 198.50,193.29 C199.83,193.12 201.17,192.95 202.50,192.79 C203.83,192.63 205.17,192.46 206.50,192.30 C207.83,192.14 209.17,191.99 210.50,191.83 C211.83,191.67 213.17,191.52 214.50,191.37 C215.83,191.21 217.17,191.06 218.50,190.91 C219.83,190.76 221.17,190.62 222.50,190.47 C223.83,190.32 225.17,190.18 226.50,190.04 C227.83,189.90 229.17,189.75 230.50,189.62 C231.83,189.48 233.17,189.34 234.50,189.20 C235.83,189.06 237.17,188.93 238.50,188.80 C239.83,188.66 241.17,188.53 242.50,188.40 C243.83,188.27 245.17,188.14 246.50,188.01 C247.83,187.88 249.17,187.76 250.50,187.63 C251.83,187.51 253.17,187.38 254.50,187.26 C255.83,187.14 257.17,187.02 258.50,186.89 C259.83,186.77 261.17,186.66 262.50,186.54 C263.83,186.42 265.17,186.30 266.50,186.19 C267.83,186.07 269.17,185.96 270.50,185.84 C271.83,185.73 273.17,185.62 274.50,185.51 C275.83,185.39 277.17,185.28 278.50,185.17 C279.83,185.07 281.17,184.96 282.50,184.85 C283.83,184.74 285.17,184.64 286.50,184.53 C287.83,184.43 289.17,184.32 290.50,184.22 C291.83,184.12 293.17,184.01 294.50,183.91 C295.83,183.81 297.93,183.65 298.50,183.61 C298.66,183.60 298.70,183.59 298.80,183.59" stroke="#ff0000" stroke-width="1.0" fill="none" stroke-linejoin="round"/>
<path d="M55.30,255.40 C55.93,255.37 56.42,255.34 57.20,255.30 C58.47,255.24 60.85,254.82 62.20,255.10 C63.21,255.31 63.85,256.05 64.70,256.30 C65.51,256.54 66.32,256.68 67.20,256.60 C68.21,256.51 69.27,255.82 70.40,255.60 C71.62,255.36 73.03,255.47 74.30,255.30 C75.53,255.13 76.71,254.55 77.90,254.60 C79.11,254.65 80.33,255.29 81.50,255.60 C82.60,255.89 83.60,256.50 84.70,256.40 C85.96,256.28 87.31,254.69 88.60,254.60 C89.81,254.52 90.96,255.45 92.20,255.70 C93.46,255.95 94.80,256.03 96.10,256.10 C97.40,256.17 98.56,256.08 100.00,256.10 C101.81,256.13 103.58,256.32 106.10,256.30 C110.21,256.27 117.84,255.69 122.30,255.50 C125.43,255.36 128.26,255.61 130.30,255.20 C131.63,254.93 132.44,254.47 133.50,254.00 C134.61,253.51 135.60,252.92 136.80,252.30 C138.25,251.55 139.99,250.35 141.60,249.80 C143.06,249.30 144.29,249.19 146.00,249.00 C148.36,248.74 151.22,248.89 154.50,248.70 C159.02,248.44 165.95,247.79 170.60,247.40 C174.15,247.11 176.52,246.88 180.00,246.60 C184.35,246.25 189.45,245.96 194.70,245.50 C200.79,244.96 207.84,244.15 214.40,243.50 C220.94,242.85 227.46,242.25 234.00,241.60 C240.56,240.95 247.14,240.37 253.70,239.60 C260.27,238.83 267.20,237.86 273.40,237.00 C278.96,236.23 284.74,235.78 289.20,234.70 C292.60,233.88 295.07,232.70 298.00,231.70" stroke="#ff0000" stroke-width="1.1" fill="none" stroke-linejoin="round" stroke-dasharray="2.2 1.9"/>
<path d="M418.20,275.60 C418.23,267.07 418.20,256.94 418.30,250.00 C418.37,245.25 418.30,241.77 418.60,238.00 C418.87,234.61 419.37,231.60 419.90,228.40 C420.44,225.17 420.93,221.68 421.80,218.70 C422.58,216.03 423.46,213.61 424.70,211.30 C425.93,209.00 428.21,206.12 429.20,204.88 C429.63,204.33 429.86,204.11 430.20,203.75 C430.53,203.39 430.86,203.05 431.20,202.71 C431.53,202.38 431.86,202.06 432.20,201.75 C432.53,201.44 432.86,201.14 433.20,200.85 C433.53,200.56 433.86,200.29 434.20,200.01 C434.53,199.74 434.86,199.48 435.20,199.22 C435.53,198.97 435.87,198.72 436.20,198.48 C436.53,198.23 436.87,198.00 437.20,197.77 C437.53,197.54 437.87,197.32 438.20,197.10 C438.53,196.88 438.81,196.70 439.20,196.46 C439.75,196.12 440.41,195.70 441.20,195.26 C442.30,194.64 443.86,193.80 445.20,193.14 C446.52,192.48 447.86,191.88 449.20,191.30 C450.53,190.72 451.86,190.18 453.20,189.67 C454.53,189.15 455.86,188.67 457.20,188.20 C458.53,187.74 459.86,187.30 461.20,186.87 C462.53,186.45 463.86,186.04 465.20,185.65 C466.53,185.26 467.87,184.88 469.20,184.52 C470.53,184.15 471.87,183.80 473.20,183.46 C474.53,183.13 475.87,182.80 477.20,182.48 C478.53,182.16 479.87,181.85 481.20,181.55 C482.53,181.25 483.87,180.96 485.20,180.68 C486.53,180.39 487.87,180.12 489.20,179.85 C490.53,179.58 491.87,179.31 493.20,179.06 C494.53,178.80 495.87,178.55 497.20,178.30 C498.53,178.06 499.87,177.82 501.20,177.58 C502.53,177.35 503.87,177.12 505.20,176.89 C506.53,176.67 507.87,176.45 509.20,176.23 C510.53,176.01 511.87,175.80 513.20,175.59 C514.53,175.39 515.87,175.18 517.20,174.98 C518.53,174.78 519.87,174.58 521.20,174.39 C522.53,174.19 523.87,174.00 525.20,173.82 C526.53,173.63 527.87,173.44 529.20,173.26 C530.53,173.08 531.87,172.90 533.20,172.72 C534.53,172.55 535.87,172.38 537.20,172.20 C538.53,172.03 539.87,171.86 541.20,171.70 C542.53,171.53 543.87,171.37 545.20,171.21 C546.53,171.05 547.87,170.89 549.20,170.73 C550.53,170.57 551.87,170.42 553.20,170.27 C554.53,170.11 555.87,169.96 557.20,169.81 C558.53,169.66 559.87,169.52 561.20,169.37 C562.53,169.22 563.87,169.08 565.20,168.94 C566.53,168.80 567.87,168.66 569.20,168.52 C570.53,168.38 571.87,168.24 573.20,168.11 C574.53,167.97 575.87,167.84 577.20,167.70 C578.53,167.57 579.87,167.44 581.20,167.31 C582.53,167.18 583.87,167.05 585.20,166.93 C586.53,166.80 587.87,166.67 589.20,166.55 C590.53,166.43 591.87,166.30 593.20,166.18 C594.53,166.06 595.87,165.94 597.20,165.82 C598.53,165.70 599.87,165.58 601.20,165.46 C602.53,165.35 603.87,165.23 605.20,165.12 C606.53,165.00 607.87,164.89 609.20,164.78 C610.53,164.66 611.87,164.55 613.20,164.44 C614.53,164.33 615.87,164.22 617.20,164.11 C618.53,164.00 619.87,163.89 621.20,163.79 C622.53,163.68 623.87,163.58 625.20,163.47 C626.53,163.37 627.87,163.26 629.20,163.16 C630.53,163.05 631.87,162.95 633.20,162.85 C634.53,162.75 635.87,162.65 637.20,162.55 C638.53,162.45 639.87,162.35 641.20,162.25 C642.53,162.15 643.87,162.06 645.20,161.96 C646.53,161.86 647.87,161.77 649.20,161.67 C650.53,161.58 651.87,161.48 653.20,161.39 C654.53,161.29 655.87,161.20 657.20,161.11 C658.53,161.02 659.87,160.92 661.20,160.83 C662.53,160.74 664.05,160.64 665.20,160.56 C666.07,160.50 666.73,160.46 667.50,160.41" stroke="#000" stroke-width="1.0" fill="none" stroke-linejoin="round"/>
<path d="M418.30,275.60 C418.37,270.50 418.29,265.47 418.50,260.30 C418.72,254.97 418.98,248.56 419.60,244.10 C420.04,240.92 420.72,238.55 421.30,236.00 C421.82,233.71 422.05,231.40 422.90,229.50 C423.67,227.78 424.88,226.60 426.00,225.00 C427.29,223.16 429.25,220.22 430.20,219.08 C430.62,218.57 430.86,218.38 431.20,218.05 C431.53,217.72 431.86,217.40 432.20,217.09 C432.53,216.78 432.86,216.48 433.20,216.19 C433.53,215.90 433.86,215.61 434.20,215.34 C434.53,215.06 434.87,214.79 435.20,214.53 C435.53,214.27 435.87,214.02 436.20,213.77 C436.53,213.52 436.87,213.28 437.20,213.04 C437.53,212.80 437.87,212.57 438.20,212.35 C438.53,212.12 438.87,211.90 439.20,211.68 C439.53,211.46 439.81,211.29 440.20,211.04 C440.75,210.70 441.41,210.29 442.20,209.84 C443.30,209.22 444.86,208.37 446.20,207.69 C447.52,207.02 448.86,206.39 450.20,205.79 C451.53,205.20 452.86,204.64 454.20,204.10 C455.53,203.56 456.86,203.06 458.20,202.57 C459.53,202.08 460.86,201.62 462.20,201.17 C463.53,200.73 464.86,200.30 466.20,199.89 C467.53,199.48 468.86,199.08 470.20,198.70 C471.53,198.32 472.87,197.95 474.20,197.59 C475.53,197.24 476.87,196.89 478.20,196.56 C479.53,196.22 480.87,195.90 482.20,195.59 C483.53,195.27 484.87,194.97 486.20,194.67 C487.53,194.38 488.87,194.09 490.20,193.81 C491.53,193.53 492.87,193.26 494.20,192.99 C495.53,192.73 496.87,192.47 498.20,192.22 C499.53,191.97 500.87,191.72 502.20,191.48 C503.53,191.24 504.87,191.01 506.20,190.78 C507.53,190.55 508.87,190.32 510.20,190.11 C511.53,189.89 512.87,189.67 514.20,189.46 C515.53,189.25 516.87,189.05 518.20,188.85 C519.53,188.64 521.02,188.43 522.20,188.25 C523.13,188.12 523.87,188.02 524.70,187.90" stroke="#ff0000" stroke-width="1.0" fill="none" stroke-linejoin="round"/>
<path d="M418.80,267.90 C425.87,267.80 432.92,267.77 440.00,267.60 C447.12,267.43 456.19,266.73 461.40,266.90 C464.41,267.00 465.78,267.40 468.50,267.60 C472.16,267.87 476.89,268.18 481.40,268.20 C486.38,268.22 492.00,267.82 497.10,267.60 C501.95,267.39 506.62,267.03 511.30,266.90 C515.88,266.77 520.37,266.83 524.90,266.80" stroke="#ff0000" stroke-width="1.1" fill="none" stroke-linejoin="round" stroke-dasharray="2.2 1.9"/>
<text x="62.50" y="16.80" font-size="11.8" letter-spacing="0.669" fill="#000" stroke="#000" stroke-width="0.26"> 5</text><path transform="translate(62.50,16.80) scale(0.00576,-0.00576)" d="M515,0L515,1237L197,1010L197,1180L530,1409L696,1409L696,0Z" fill="#000" stroke="#000" stroke-width="45.1"/>
<text x="82.16" y="16.80" font-size="11.8" textLength="9.59" lengthAdjust="spacingAndGlyphs" fill="#000" stroke="#000" stroke-width="0.26">M</text>
<circle cx="95.10" cy="17.05" r="2.55" fill="none" stroke="#000" stroke-width="0.9"/><circle cx="95.10" cy="17.05" r="0.8" fill="#000"/>
<text x="109.26" y="16.80" font-size="11.8" letter-spacing="0.308" fill="#000" stroke="#000" stroke-width="0.26">[Fe</text>
<text x="135.73" y="16.80" font-size="11.8" letter-spacing="1.458" fill="#000" stroke="#000" stroke-width="0.26">H]=0</text>
<path d="M128.30,19.60L135.20,7.40" stroke="#000" stroke-width="1.25" stroke-linecap="butt"/>
<text x="62.50" y="164.10" font-size="11.8" letter-spacing="0.669" fill="#000" stroke="#000" stroke-width="0.26"> 5</text><path transform="translate(62.50,164.10) scale(0.00576,-0.00576)" d="M515,0L515,1237L197,1010L197,1180L530,1409L696,1409L696,0Z" fill="#000" stroke="#000" stroke-width="45.1"/>
<text x="82.16" y="164.10" font-size="11.8" textLength="9.59" lengthAdjust="spacingAndGlyphs" fill="#000" stroke="#000" stroke-width="0.26">M</text>
<circle cx="95.10" cy="164.35" r="2.55" fill="none" stroke="#000" stroke-width="0.9"/><circle cx="95.10" cy="164.35" r="0.8" fill="#000"/>
<text x="109.26" y="164.10" font-size="11.8" letter-spacing="0.308" fill="#000" stroke="#000" stroke-width="0.26">[Fe</text>
<text x="135.73" y="164.10" font-size="11.8" letter-spacing="1.458" fill="#000" stroke="#000" stroke-width="0.26">H]=0</text>
<path d="M128.30,166.90L135.20,154.70" stroke="#000" stroke-width="1.25" stroke-linecap="butt"/>
<text x="430.00" y="17.10" font-size="11.8" letter-spacing="0.735" fill="#000" stroke="#000" stroke-width="0.26">60</text>
<text x="450.25" y="17.10" font-size="11.8" textLength="8.59" lengthAdjust="spacingAndGlyphs" fill="#000" stroke="#000" stroke-width="0.26">M</text>
<circle cx="462.80" cy="17.60" r="2.55" fill="none" stroke="#000" stroke-width="0.9"/><circle cx="462.80" cy="17.60" r="0.8" fill="#000"/>
<text x="476.96" y="17.10" font-size="11.8" letter-spacing="0.308" fill="#000" stroke="#000" stroke-width="0.26">[Fe</text>
<text x="503.43" y="17.10" font-size="11.8" letter-spacing="1.458" fill="#000" stroke="#000" stroke-width="0.26">H]=0</text>
<path d="M496.00,19.90L502.90,7.70" stroke="#000" stroke-width="1.25" stroke-linecap="butt"/>
<text x="430.00" y="164.30" font-size="11.8" letter-spacing="0.735" fill="#000" stroke="#000" stroke-width="0.26">60</text>
<text x="450.25" y="164.30" font-size="11.8" textLength="8.59" lengthAdjust="spacingAndGlyphs" fill="#000" stroke="#000" stroke-width="0.26">M</text>
<circle cx="462.80" cy="164.80" r="2.55" fill="none" stroke="#000" stroke-width="0.9"/><circle cx="462.80" cy="164.80" r="0.8" fill="#000"/>
<text x="476.96" y="164.30" font-size="11.8" letter-spacing="0.308" fill="#000" stroke="#000" stroke-width="0.26">[Fe</text>
<text x="503.43" y="164.30" font-size="11.8" letter-spacing="1.458" fill="#000" stroke="#000" stroke-width="0.26">H]=0</text>
<path d="M496.00,167.10L502.90,154.90" stroke="#000" stroke-width="1.25" stroke-linecap="butt"/>
<text x="204.16" y="16.80" font-size="11.8" letter-spacing="0.806" fill="#000" stroke="#000" stroke-width="0.26">v= 50</text><path transform="translate(218.56,16.80) scale(0.00576,-0.00576)" d="M515,0L515,1237L197,1010L197,1180L530,1409L696,1409L696,0Z" fill="#000" stroke="#000" stroke-width="45.1"/>
<text x="246.25" y="16.80" font-size="11.8" textLength="6.34" lengthAdjust="spacingAndGlyphs" fill="#000" stroke="#000" stroke-width="0.26">k</text>
<text x="252.07" y="16.80" font-size="11.8" textLength="12.96" lengthAdjust="spacingAndGlyphs" fill="#000" stroke="#000" stroke-width="0.26">m</text>
<text x="273.37" y="16.80" font-size="11.8" textLength="5.96" lengthAdjust="spacingAndGlyphs" fill="#000" stroke="#000" stroke-width="0.26">s</text>
<path d="M265.50,19.50L272.30,7.30" stroke="#000" stroke-width="1.25" stroke-linecap="butt"/>
<text x="203.86" y="164.30" font-size="11.8" letter-spacing="0.806" fill="#000" stroke="#000" stroke-width="0.26">v=300</text>
<text x="245.95" y="164.30" font-size="11.8" textLength="6.34" lengthAdjust="spacingAndGlyphs" fill="#000" stroke="#000" stroke-width="0.26">k</text>
<text x="251.77" y="164.30" font-size="11.8" textLength="12.96" lengthAdjust="spacingAndGlyphs" fill="#000" stroke="#000" stroke-width="0.26">m</text>
<text x="273.07" y="164.30" font-size="11.8" textLength="5.96" lengthAdjust="spacingAndGlyphs" fill="#000" stroke="#000" stroke-width="0.26">s</text>
<path d="M265.20,167.00L272.00,154.80" stroke="#000" stroke-width="1.25" stroke-linecap="butt"/>
<text x="570.46" y="116.40" font-size="11.8" letter-spacing="0.806" fill="#000" stroke="#000" stroke-width="0.26">v= 50</text><path transform="translate(584.86,116.40) scale(0.00576,-0.00576)" d="M515,0L515,1237L197,1010L197,1180L530,1409L696,1409L696,0Z" fill="#000" stroke="#000" stroke-width="45.1"/>
<text x="612.55" y="116.40" font-size="11.8" textLength="6.34" lengthAdjust="spacingAndGlyphs" fill="#000" stroke="#000" stroke-width="0.26">k</text>
<text x="618.37" y="116.40" font-size="11.8" textLength="12.96" lengthAdjust="spacingAndGlyphs" fill="#000" stroke="#000" stroke-width="0.26">m</text>
<text x="639.67" y="116.40" font-size="11.8" textLength="5.96" lengthAdjust="spacingAndGlyphs" fill="#000" stroke="#000" stroke-width="0.26">s</text>
<path d="M631.80,119.10L638.60,106.90" stroke="#000" stroke-width="1.25" stroke-linecap="butt"/>
<text x="570.76" y="263.10" font-size="11.8" letter-spacing="0.806" fill="#000" stroke="#000" stroke-width="0.26">v=300</text>
<text x="612.85" y="263.10" font-size="11.8" textLength="6.34" lengthAdjust="spacingAndGlyphs" fill="#000" stroke="#000" stroke-width="0.26">k</text>
<text x="618.67" y="263.10" font-size="11.8" textLength="12.96" lengthAdjust="spacingAndGlyphs" fill="#000" stroke="#000" stroke-width="0.26">m</text>
<text x="639.97" y="263.10" font-size="11.8" textLength="5.96" lengthAdjust="spacingAndGlyphs" fill="#000" stroke="#000" stroke-width="0.26">s</text>
<path d="M632.10,265.80L638.90,253.60" stroke="#000" stroke-width="1.25" stroke-linecap="butt"/>
<text x="103.73" y="46.50" font-size="11.8" letter-spacing="0.711" fill="#000" stroke="#000" stroke-width="0.26">Log(J)</text>
<text x="103.33" y="194.00" font-size="11.8" letter-spacing="0.811" fill="#000" stroke="#000" stroke-width="0.26">Log(J)</text>
<text x="479.63" y="59.40" font-size="11.8" letter-spacing="0.731" fill="#000" stroke="#000" stroke-width="0.26">Log(J)</text>
<text x="479.63" y="206.50" font-size="11.8" letter-spacing="0.731" fill="#000" stroke="#000" stroke-width="0.26">Log(J)</text>
<text x="103.85" y="99.80" font-size="11.8" letter-spacing="-0.555" fill="#000" stroke="#000" stroke-width="0.26">ΔJ</text>
<text x="103.85" y="246.60" font-size="11.8" letter-spacing="-0.955" fill="#000" stroke="#000" stroke-width="0.26">ΔJ</text>
<text x="458.75" y="94.00" font-size="11.8" letter-spacing="-0.455" fill="#000" stroke="#000" stroke-width="0.26">ΔJ</text>
<text x="458.95" y="261.70" font-size="11.8" letter-spacing="-0.755" fill="#000" stroke="#000" stroke-width="0.26">ΔJ</text>
<path d="M212.9,102.8H226.0" stroke="#000" stroke-width="1.1"/>
<path d="M212.9,116.1H226.0" stroke="#ff0000" stroke-width="1.1"/>
<text x="227.87" y="106.20" font-size="11.8" textLength="8.14" lengthAdjust="spacingAndGlyphs" fill="#000" stroke="#000" stroke-width="0.26">H</text>
<text x="241.91" y="106.20" font-size="11.8" letter-spacing="0.723" fill="#000" stroke="#000" stroke-width="0.26">ignition</text>
<text x="227.87" y="118.80" font-size="11.8" textLength="8.14" lengthAdjust="spacingAndGlyphs" fill="#000" stroke="#000" stroke-width="0.26">H</text>
<text x="242.00" y="118.80" font-size="11.8" letter-spacing="0.496" fill="#000" stroke="#000" stroke-width="0.26">depletion</text>
<path d="M213.2,250.0H225.9" stroke="#000" stroke-width="1.1"/>
<path d="M213.2,263.2H225.9" stroke="#ff0000" stroke-width="1.1"/>
<text x="227.57" y="253.40" font-size="11.8" textLength="8.14" lengthAdjust="spacingAndGlyphs" fill="#000" stroke="#000" stroke-width="0.26">H</text>
<text x="241.61" y="253.40" font-size="11.8" letter-spacing="0.723" fill="#000" stroke="#000" stroke-width="0.26">ignition</text>
<text x="227.57" y="266.00" font-size="11.8" textLength="8.14" lengthAdjust="spacingAndGlyphs" fill="#000" stroke="#000" stroke-width="0.26">H</text>
<text x="241.70" y="266.00" font-size="11.8" letter-spacing="0.496" fill="#000" stroke="#000" stroke-width="0.26">depletion</text>
<path d="M570.7,55.4H580.4" stroke="#000" stroke-width="1.1"/>
<path d="M570.7,69.8H580.4" stroke="#ff0000" stroke-width="1.1"/>
<text x="581.07" y="58.80" font-size="11.8" textLength="8.14" lengthAdjust="spacingAndGlyphs" fill="#000" stroke="#000" stroke-width="0.26">H</text>
<text x="595.11" y="58.80" font-size="11.8" letter-spacing="0.723" fill="#000" stroke="#000" stroke-width="0.26">ignition</text>
<text x="581.07" y="73.50" font-size="11.8" textLength="8.14" lengthAdjust="spacingAndGlyphs" fill="#000" stroke="#000" stroke-width="0.26">H</text>
<text x="595.20" y="73.50" font-size="11.8" letter-spacing="0.496" fill="#000" stroke="#000" stroke-width="0.26">depletion</text>
<path d="M570.9,202.2H580.1" stroke="#000" stroke-width="1.1"/>
<path d="M570.9,216.6H580.1" stroke="#ff0000" stroke-width="1.1"/>
<text x="581.07" y="206.00" font-size="11.8" textLength="8.14" lengthAdjust="spacingAndGlyphs" fill="#000" stroke="#000" stroke-width="0.26">H</text>
<text x="595.11" y="206.00" font-size="11.8" letter-spacing="0.723" fill="#000" stroke="#000" stroke-width="0.26">ignition</text>
<text x="581.07" y="220.80" font-size="11.8" textLength="8.14" lengthAdjust="spacingAndGlyphs" fill="#000" stroke="#000" stroke-width="0.26">H</text>
<text x="595.20" y="220.80" font-size="11.8" letter-spacing="0.496" fill="#000" stroke="#000" stroke-width="0.26">depletion</text>
<text x="29.20" y="8.30" font-size="11.8" letter-spacing="0.586" fill="#000" stroke="#000" stroke-width="0.26"> 00</text><path transform="translate(29.20,8.30) scale(0.00576,-0.00576)" d="M515,0L515,1237L197,1010L197,1180L530,1409L696,1409L696,0Z" fill="#000" stroke="#000" stroke-width="45.1"/>
<text x="36.03" y="37.00" font-size="11.8" letter-spacing="0.908" fill="#000" stroke="#000" stroke-width="0.26">50</text>
<text x="43.22" y="69.50" font-size="11.8" textLength="6.86" lengthAdjust="spacingAndGlyphs" fill="#000" stroke="#000" stroke-width="0.26">0</text>
<text x="36.03" y="101.30" font-size="11.8" letter-spacing="0.908" fill="#000" stroke="#000" stroke-width="0.26">50</text>
<path d="M27.80,97.60H35.00" stroke="#000" stroke-width="1.25"/>
<text x="29.20" y="129.00" font-size="11.8" letter-spacing="0.586" fill="#000" stroke="#000" stroke-width="0.26"> 00</text><path transform="translate(29.20,129.00) scale(0.00576,-0.00576)" d="M515,0L515,1237L197,1010L197,1180L530,1409L696,1409L696,0Z" fill="#000" stroke="#000" stroke-width="45.1"/>
<path d="M20.30,125.40H27.50" stroke="#000" stroke-width="1.25"/>
<text x="307.73" y="8.30" font-size="11.8" letter-spacing="0.393" fill="#000" stroke="#000" stroke-width="0.26">54</text>
<text x="307.73" y="23.50" font-size="11.8" letter-spacing="0.566" fill="#000" stroke="#000" stroke-width="0.26">53</text>
<text x="307.73" y="42.10" font-size="11.8" letter-spacing="0.641" fill="#000" stroke="#000" stroke-width="0.26">52</text>
<text x="307.73" y="60.60" font-size="11.8" letter-spacing="0.623" fill="#000" stroke="#000" stroke-width="0.26">5 </text><path transform="translate(314.91,60.60) scale(0.00576,-0.00576)" d="M515,0L515,1237L197,1010L197,1180L530,1409L696,1409L696,0Z" fill="#000" stroke="#000" stroke-width="45.1"/>
<text x="307.73" y="78.50" font-size="11.8" letter-spacing="0.508" fill="#000" stroke="#000" stroke-width="0.26">50</text>
<text x="307.93" y="97.20" font-size="11.8" letter-spacing="0.404" fill="#000" stroke="#000" stroke-width="0.26">49</text>
<text x="307.93" y="115.30" font-size="11.8" letter-spacing="0.358" fill="#000" stroke="#000" stroke-width="0.26">48</text>
<text x="307.93" y="128.80" font-size="11.8" letter-spacing="0.439" fill="#000" stroke="#000" stroke-width="0.26">47</text>
<text x="392.80" y="8.30" font-size="11.8" letter-spacing="0.586" fill="#000" stroke="#000" stroke-width="0.26"> 00</text><path transform="translate(392.80,8.30) scale(0.00576,-0.00576)" d="M515,0L515,1237L197,1010L197,1180L530,1409L696,1409L696,0Z" fill="#000" stroke="#000" stroke-width="45.1"/>
<text x="399.63" y="37.00" font-size="11.8" letter-spacing="0.908" fill="#000" stroke="#000" stroke-width="0.26">50</text>
<text x="406.82" y="69.50" font-size="11.8" textLength="6.86" lengthAdjust="spacingAndGlyphs" fill="#000" stroke="#000" stroke-width="0.26">0</text>
<text x="399.63" y="101.30" font-size="11.8" letter-spacing="0.908" fill="#000" stroke="#000" stroke-width="0.26">50</text>
<path d="M391.40,97.60H398.60" stroke="#000" stroke-width="1.25"/>
<text x="392.80" y="129.00" font-size="11.8" letter-spacing="0.586" fill="#000" stroke="#000" stroke-width="0.26"> 00</text><path transform="translate(392.80,129.00) scale(0.00576,-0.00576)" d="M515,0L515,1237L197,1010L197,1180L530,1409L696,1409L696,0Z" fill="#000" stroke="#000" stroke-width="45.1"/>
<path d="M383.90,125.40H391.10" stroke="#000" stroke-width="1.25"/>
<text x="671.33" y="8.30" font-size="11.8" letter-spacing="0.393" fill="#000" stroke="#000" stroke-width="0.26">54</text>
<text x="671.33" y="23.50" font-size="11.8" letter-spacing="0.566" fill="#000" stroke="#000" stroke-width="0.26">53</text>
<text x="671.33" y="42.10" font-size="11.8" letter-spacing="0.641" fill="#000" stroke="#000" stroke-width="0.26">52</text>
<text x="671.33" y="60.60" font-size="11.8" letter-spacing="0.623" fill="#000" stroke="#000" stroke-width="0.26">5 </text><path transform="translate(678.51,60.60) scale(0.00576,-0.00576)" d="M515,0L515,1237L197,1010L197,1180L530,1409L696,1409L696,0Z" fill="#000" stroke="#000" stroke-width="45.1"/>
<text x="671.33" y="78.50" font-size="11.8" letter-spacing="0.508" fill="#000" stroke="#000" stroke-width="0.26">50</text>
<text x="671.53" y="97.20" font-size="11.8" letter-spacing="0.404" fill="#000" stroke="#000" stroke-width="0.26">49</text>
<text x="671.53" y="115.30" font-size="11.8" letter-spacing="0.358" fill="#000" stroke="#000" stroke-width="0.26">48</text>
<text x="671.53" y="128.80" font-size="11.8" letter-spacing="0.439" fill="#000" stroke="#000" stroke-width="0.26">47</text>
<text x="29.20" y="155.50" font-size="11.8" letter-spacing="0.586" fill="#000" stroke="#000" stroke-width="0.26"> 00</text><path transform="translate(29.20,155.50) scale(0.00576,-0.00576)" d="M515,0L515,1237L197,1010L197,1180L530,1409L696,1409L696,0Z" fill="#000" stroke="#000" stroke-width="45.1"/>
<text x="36.03" y="184.20" font-size="11.8" letter-spacing="0.908" fill="#000" stroke="#000" stroke-width="0.26">50</text>
<text x="43.22" y="216.70" font-size="11.8" textLength="6.86" lengthAdjust="spacingAndGlyphs" fill="#000" stroke="#000" stroke-width="0.26">0</text>
<text x="36.03" y="248.50" font-size="11.8" letter-spacing="0.908" fill="#000" stroke="#000" stroke-width="0.26">50</text>
<path d="M27.80,244.80H35.00" stroke="#000" stroke-width="1.25"/>
<text x="29.20" y="276.20" font-size="11.8" letter-spacing="0.586" fill="#000" stroke="#000" stroke-width="0.26"> 00</text><path transform="translate(29.20,276.20) scale(0.00576,-0.00576)" d="M515,0L515,1237L197,1010L197,1180L530,1409L696,1409L696,0Z" fill="#000" stroke="#000" stroke-width="45.1"/>
<path d="M20.30,272.60H27.50" stroke="#000" stroke-width="1.25"/>
<text x="307.73" y="155.50" font-size="11.8" letter-spacing="0.393" fill="#000" stroke="#000" stroke-width="0.26">54</text>
<text x="307.73" y="170.70" font-size="11.8" letter-spacing="0.566" fill="#000" stroke="#000" stroke-width="0.26">53</text>
<text x="307.73" y="189.30" font-size="11.8" letter-spacing="0.641" fill="#000" stroke="#000" stroke-width="0.26">52</text>
<text x="307.73" y="207.80" font-size="11.8" letter-spacing="0.623" fill="#000" stroke="#000" stroke-width="0.26">5 </text><path transform="translate(314.91,207.80) scale(0.00576,-0.00576)" d="M515,0L515,1237L197,1010L197,1180L530,1409L696,1409L696,0Z" fill="#000" stroke="#000" stroke-width="45.1"/>
<text x="307.73" y="225.70" font-size="11.8" letter-spacing="0.508" fill="#000" stroke="#000" stroke-width="0.26">50</text>
<text x="307.93" y="244.40" font-size="11.8" letter-spacing="0.404" fill="#000" stroke="#000" stroke-width="0.26">49</text>
<text x="307.93" y="262.50" font-size="11.8" letter-spacing="0.358" fill="#000" stroke="#000" stroke-width="0.26">48</text>
<text x="307.93" y="276.00" font-size="11.8" letter-spacing="0.439" fill="#000" stroke="#000" stroke-width="0.26">47</text>
<text x="392.80" y="155.50" font-size="11.8" letter-spacing="0.586" fill="#000" stroke="#000" stroke-width="0.26"> 00</text><path transform="translate(392.80,155.50) scale(0.00576,-0.00576)" d="M515,0L515,1237L197,1010L197,1180L530,1409L696,1409L696,0Z" fill="#000" stroke="#000" stroke-width="45.1"/>
<text x="399.63" y="184.20" font-size="11.8" letter-spacing="0.908" fill="#000" stroke="#000" stroke-width="0.26">50</text>
<text x="406.82" y="216.70" font-size="11.8" textLength="6.86" lengthAdjust="spacingAndGlyphs" fill="#000" stroke="#000" stroke-width="0.26">0</text>
<text x="399.63" y="248.50" font-size="11.8" letter-spacing="0.908" fill="#000" stroke="#000" stroke-width="0.26">50</text>
<path d="M391.40,244.80H398.60" stroke="#000" stroke-width="1.25"/>
<text x="392.80" y="276.20" font-size="11.8" letter-spacing="0.586" fill="#000" stroke="#000" stroke-width="0.26"> 00</text><path transform="translate(392.80,276.20) scale(0.00576,-0.00576)" d="M515,0L515,1237L197,1010L197,1180L530,1409L696,1409L696,0Z" fill="#000" stroke="#000" stroke-width="45.1"/>
<path d="M383.90,272.60H391.10" stroke="#000" stroke-width="1.25"/>
<text x="671.33" y="155.50" font-size="11.8" letter-spacing="0.393" fill="#000" stroke="#000" stroke-width="0.26">54</text>
<text x="671.33" y="170.70" font-size="11.8" letter-spacing="0.566" fill="#000" stroke="#000" stroke-width="0.26">53</text>
<text x="671.33" y="189.30" font-size="11.8" letter-spacing="0.641" fill="#000" stroke="#000" stroke-width="0.26">52</text>
<text x="671.33" y="207.80" font-size="11.8" letter-spacing="0.623" fill="#000" stroke="#000" stroke-width="0.26">5 </text><path transform="translate(678.51,207.80) scale(0.00576,-0.00576)" d="M515,0L515,1237L197,1010L197,1180L530,1409L696,1409L696,0Z" fill="#000" stroke="#000" stroke-width="45.1"/>
<text x="671.33" y="225.70" font-size="11.8" letter-spacing="0.508" fill="#000" stroke="#000" stroke-width="0.26">50</text>
<text x="671.53" y="244.40" font-size="11.8" letter-spacing="0.404" fill="#000" stroke="#000" stroke-width="0.26">49</text>
<text x="671.53" y="262.50" font-size="11.8" letter-spacing="0.358" fill="#000" stroke="#000" stroke-width="0.26">48</text>
<text x="671.53" y="276.00" font-size="11.8" letter-spacing="0.439" fill="#000" stroke="#000" stroke-width="0.26">47</text>
<text x="51.05" y="145.50" font-size="11.8" textLength="6.89" lengthAdjust="spacingAndGlyphs" fill="#000" stroke="#000" stroke-width="0.26">0</text>
<text x="84.32" y="145.50" font-size="11.8" textLength="6.89" lengthAdjust="spacingAndGlyphs" fill="#000" stroke="#000" stroke-width="0.26">2</text>
<text x="117.63" y="145.50" font-size="11.8" textLength="6.89" lengthAdjust="spacingAndGlyphs" fill="#000" stroke="#000" stroke-width="0.26">4</text>
<text x="150.81" y="145.50" font-size="11.8" textLength="6.89" lengthAdjust="spacingAndGlyphs" fill="#000" stroke="#000" stroke-width="0.26">6</text>
<text x="184.12" y="145.50" font-size="11.8" textLength="6.89" lengthAdjust="spacingAndGlyphs" fill="#000" stroke="#000" stroke-width="0.26">8</text>
<text x="213.76" y="145.50" font-size="11.8" letter-spacing="0.588" fill="#000" stroke="#000" stroke-width="0.26"> 0</text><path transform="translate(213.76,145.50) scale(0.00576,-0.00576)" d="M515,0L515,1237L197,1010L197,1180L530,1409L696,1409L696,0Z" fill="#000" stroke="#000" stroke-width="45.1"/>
<text x="247.09" y="145.50" font-size="11.8" letter-spacing="0.582" fill="#000" stroke="#000" stroke-width="0.26"> 2</text><path transform="translate(247.09,145.50) scale(0.00576,-0.00576)" d="M515,0L515,1237L197,1010L197,1180L530,1409L696,1409L696,0Z" fill="#000" stroke="#000" stroke-width="45.1"/>
<text x="280.23" y="145.50" font-size="11.8" letter-spacing="0.594" fill="#000" stroke="#000" stroke-width="0.26"> 4</text><path transform="translate(280.23,145.50) scale(0.00576,-0.00576)" d="M515,0L515,1237L197,1010L197,1180L530,1409L696,1409L696,0Z" fill="#000" stroke="#000" stroke-width="45.1"/>
<text x="414.75" y="145.50" font-size="11.8" textLength="6.89" lengthAdjust="spacingAndGlyphs" fill="#000" stroke="#000" stroke-width="0.26">0</text>
<text x="452.69" y="145.50" font-size="11.8" letter-spacing="0.588" fill="#000" stroke="#000" stroke-width="0.26"> 0</text><path transform="translate(452.69,145.50) scale(0.00576,-0.00576)" d="M515,0L515,1237L197,1010L197,1180L530,1409L696,1409L696,0Z" fill="#000" stroke="#000" stroke-width="45.1"/>
<text x="494.40" y="145.50" font-size="11.8" letter-spacing="0.604" fill="#000" stroke="#000" stroke-width="0.26">20</text>
<text x="536.04" y="145.50" font-size="11.8" letter-spacing="0.611" fill="#000" stroke="#000" stroke-width="0.26">30</text>
<text x="577.69" y="145.50" font-size="11.8" letter-spacing="0.620" fill="#000" stroke="#000" stroke-width="0.26">40</text>
<text x="619.16" y="145.50" font-size="11.8" letter-spacing="0.610" fill="#000" stroke="#000" stroke-width="0.26">50</text>
<text x="660.67" y="145.50" font-size="11.8" letter-spacing="0.603" fill="#000" stroke="#000" stroke-width="0.26">60</text>
<text x="51.05" y="292.80" font-size="11.8" textLength="6.89" lengthAdjust="spacingAndGlyphs" fill="#000" stroke="#000" stroke-width="0.26">0</text>
<text x="84.32" y="292.80" font-size="11.8" textLength="6.89" lengthAdjust="spacingAndGlyphs" fill="#000" stroke="#000" stroke-width="0.26">2</text>
<text x="117.63" y="292.80" font-size="11.8" textLength="6.89" lengthAdjust="spacingAndGlyphs" fill="#000" stroke="#000" stroke-width="0.26">4</text>
<text x="150.81" y="292.80" font-size="11.8" textLength="6.89" lengthAdjust="spacingAndGlyphs" fill="#000" stroke="#000" stroke-width="0.26">6</text>
<text x="184.12" y="292.80" font-size="11.8" textLength="6.89" lengthAdjust="spacingAndGlyphs" fill="#000" stroke="#000" stroke-width="0.26">8</text>
<text x="213.76" y="292.80" font-size="11.8" letter-spacing="0.588" fill="#000" stroke="#000" stroke-width="0.26"> 0</text><path transform="translate(213.76,292.80) scale(0.00576,-0.00576)" d="M515,0L515,1237L197,1010L197,1180L530,1409L696,1409L696,0Z" fill="#000" stroke="#000" stroke-width="45.1"/>
<text x="247.09" y="292.80" font-size="11.8" letter-spacing="0.582" fill="#000" stroke="#000" stroke-width="0.26"> 2</text><path transform="translate(247.09,292.80) scale(0.00576,-0.00576)" d="M515,0L515,1237L197,1010L197,1180L530,1409L696,1409L696,0Z" fill="#000" stroke="#000" stroke-width="45.1"/>
<text x="280.23" y="292.80" font-size="11.8" letter-spacing="0.594" fill="#000" stroke="#000" stroke-width="0.26"> 4</text><path transform="translate(280.23,292.80) scale(0.00576,-0.00576)" d="M515,0L515,1237L197,1010L197,1180L530,1409L696,1409L696,0Z" fill="#000" stroke="#000" stroke-width="45.1"/>
<text x="414.75" y="292.80" font-size="11.8" textLength="6.89" lengthAdjust="spacingAndGlyphs" fill="#000" stroke="#000" stroke-width="0.26">0</text>
<text x="452.69" y="292.80" font-size="11.8" letter-spacing="0.588" fill="#000" stroke="#000" stroke-width="0.26"> 0</text><path transform="translate(452.69,292.80) scale(0.00576,-0.00576)" d="M515,0L515,1237L197,1010L197,1180L530,1409L696,1409L696,0Z" fill="#000" stroke="#000" stroke-width="45.1"/>
<text x="494.40" y="292.80" font-size="11.8" letter-spacing="0.604" fill="#000" stroke="#000" stroke-width="0.26">20</text>
<text x="536.04" y="292.80" font-size="11.8" letter-spacing="0.611" fill="#000" stroke="#000" stroke-width="0.26">30</text>
<text x="577.69" y="292.80" font-size="11.8" letter-spacing="0.620" fill="#000" stroke="#000" stroke-width="0.26">40</text>
<text x="619.16" y="292.80" font-size="11.8" letter-spacing="0.610" fill="#000" stroke="#000" stroke-width="0.26">50</text>
<text x="660.67" y="292.80" font-size="11.8" letter-spacing="0.603" fill="#000" stroke="#000" stroke-width="0.26">60</text>
<text x="125.01" y="306.60" font-size="11.8" letter-spacing="0.694" fill="#000" stroke="#000" stroke-width="0.26">Interior</text>
<text x="172.83" y="306.60" font-size="11.8" letter-spacing="-0.099" fill="#000" stroke="#000" stroke-width="0.26">Mass</text>
<text x="206.47" y="306.60" font-size="11.8" letter-spacing="1.141" fill="#000" stroke="#000" stroke-width="0.26">(M</text>
<text x="228.32" y="306.60" font-size="11.8" textLength="4.27" lengthAdjust="spacingAndGlyphs" fill="#000" stroke="#000" stroke-width="0.26">)</text>
<circle cx="224.60" cy="306.40" r="2.6" fill="none" stroke="#000" stroke-width="0.9"/><circle cx="224.60" cy="306.40" r="0.8" fill="#000"/>
<text x="488.71" y="306.60" font-size="11.8" letter-spacing="0.694" fill="#000" stroke="#000" stroke-width="0.26">Interior</text>
<text x="536.53" y="306.60" font-size="11.8" letter-spacing="-0.099" fill="#000" stroke="#000" stroke-width="0.26">Mass</text>
<text x="570.17" y="306.60" font-size="11.8" letter-spacing="1.141" fill="#000" stroke="#000" stroke-width="0.26">(M</text>
<text x="592.02" y="306.60" font-size="11.8" textLength="4.27" lengthAdjust="spacingAndGlyphs" fill="#000" stroke="#000" stroke-width="0.26">)</text>
<circle cx="588.30" cy="306.40" r="2.6" fill="none" stroke="#000" stroke-width="0.9"/><circle cx="588.30" cy="306.40" r="0.8" fill="#000"/>
<g transform="rotate(-90)"><text x="-84.05" y="10.20" font-size="11.8" letter-spacing="-0.855" fill="#000" stroke="#000" stroke-width="0.26">ΔJ</text></g>
<path d="M0.70,60.50Q6.80,65.30 12.90,60.50" stroke="#000" stroke-width="1.2" fill="none"/>
<g transform="rotate(-90)"><text x="-60.15" y="10.20" font-size="11.0" textLength="8.70" lengthAdjust="spacingAndGlyphs" fill="#000" stroke="#000" stroke-width="0.26">%</text></g>
<path d="M0.70,50.20Q6.80,45.40 12.90,50.20" stroke="#000" stroke-width="1.2" fill="none"/>
<g transform="rotate(-90)"><text x="-83.37" y="335.00" font-size="11.8" letter-spacing="0.491" fill="#000" stroke="#000" stroke-width="0.26">Log(J)</text></g>
<g transform="rotate(-90)"><text x="-231.25" y="10.20" font-size="11.8" letter-spacing="-0.855" fill="#000" stroke="#000" stroke-width="0.26">ΔJ</text></g>
<path d="M0.70,207.70Q6.80,212.50 12.90,207.70" stroke="#000" stroke-width="1.2" fill="none"/>
<g transform="rotate(-90)"><text x="-207.35" y="10.20" font-size="11.0" textLength="8.70" lengthAdjust="spacingAndGlyphs" fill="#000" stroke="#000" stroke-width="0.26">%</text></g>
<path d="M0.70,197.40Q6.80,192.60 12.90,197.40" stroke="#000" stroke-width="1.2" fill="none"/>
<g transform="rotate(-90)"><text x="-230.57" y="335.00" font-size="11.8" letter-spacing="0.491" fill="#000" stroke="#000" stroke-width="0.26">Log(J)</text></g>
<g transform="rotate(-90)"><text x="-84.05" y="373.80" font-size="11.8" letter-spacing="-0.855" fill="#000" stroke="#000" stroke-width="0.26">ΔJ</text></g>
<path d="M364.30,60.50Q370.40,65.30 376.50,60.50" stroke="#000" stroke-width="1.2" fill="none"/>
<g transform="rotate(-90)"><text x="-60.15" y="373.80" font-size="11.0" textLength="8.70" lengthAdjust="spacingAndGlyphs" fill="#000" stroke="#000" stroke-width="0.26">%</text></g>
<path d="M364.30,50.20Q370.40,45.40 376.50,50.20" stroke="#000" stroke-width="1.2" fill="none"/>
<g transform="rotate(-90)"><text x="-83.37" y="698.60" font-size="11.8" letter-spacing="0.491" fill="#000" stroke="#000" stroke-width="0.26">Log(J)</text></g>
<g transform="rotate(-90)"><text x="-231.25" y="373.80" font-size="11.8" letter-spacing="-0.855" fill="#000" stroke="#000" stroke-width="0.26">ΔJ</text></g>
<path d="M364.30,207.70Q370.40,212.50 376.50,207.70" stroke="#000" stroke-width="1.2" fill="none"/>
<g transform="rotate(-90)"><text x="-207.35" y="373.80" font-size="11.0" textLength="8.70" lengthAdjust="spacingAndGlyphs" fill="#000" stroke="#000" stroke-width="0.26">%</text></g>
<path d="M364.30,197.40Q370.40,192.60 376.50,197.40" stroke="#000" stroke-width="1.2" fill="none"/>
<g transform="rotate(-90)"><text x="-230.57" y="698.60" font-size="11.8" letter-spacing="0.491" fill="#000" stroke="#000" stroke-width="0.26">Log(J)</text></g>
</svg>
</body></html>
